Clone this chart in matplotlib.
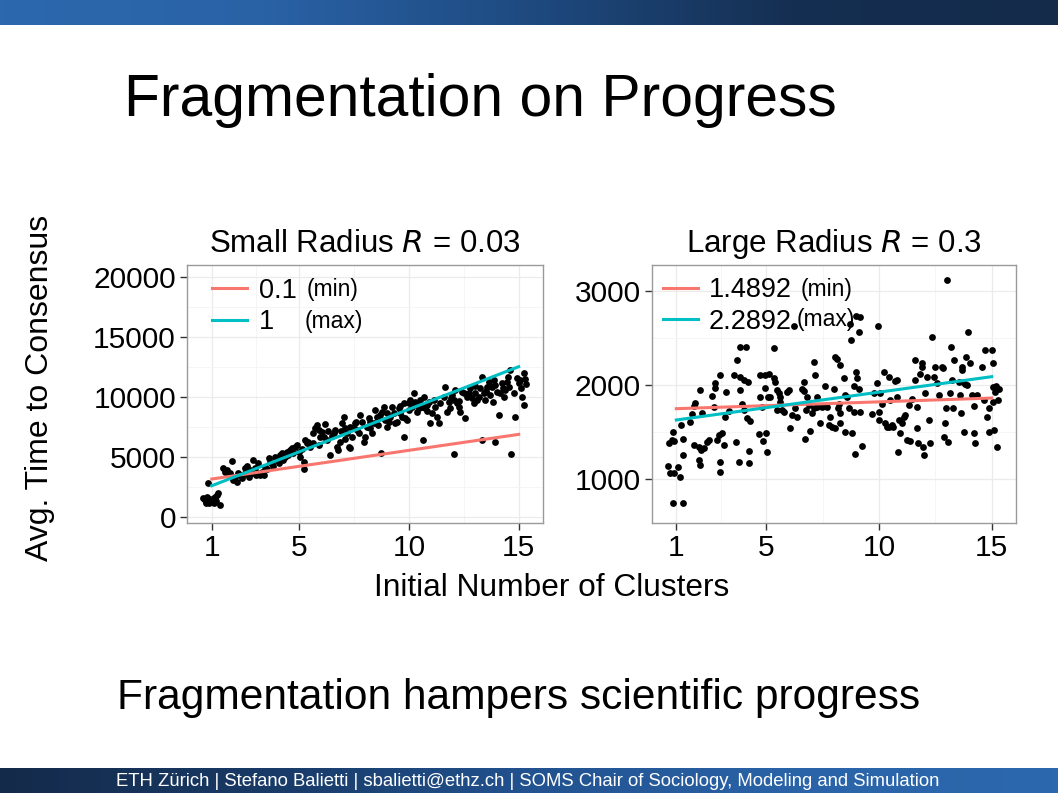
import numpy as np
import matplotlib
matplotlib.use("Agg")
import matplotlib.pyplot as plt
from matplotlib.colors import LinearSegmentedColormap

plt.rcParams['font.family'] = ['Liberation Sans', 'DejaVu Sans']

# ---- data: small radius R = 0.03 ----
small_x = [0.62, 0.70, 0.77, 0.85, 0.92, 1.00, 1.08, 1.15, 1.23, 1.30, 1.38, 0.74, 0.89, 1.08, 1.20, 0.85,
           1.53, 1.69, 1.91, 1.84, 1.99, 2.07, 2.14, 2.29, 2.37, 2.52, 2.60, 2.75, 2.83, 2.90, 2.98, 3.05,
           3.13, 3.21, 3.28, 3.36, 3.43, 3.59, 3.66, 3.74, 3.89, 3.97, 4.12, 4.20, 4.27, 4.35, 4.42, 4.58,
           4.65, 4.80, 4.88, 4.96, 5.03, 5.19, 5.22, 5.26, 5.34, 5.41, 5.49,
           5.64, 5.72, 5.79, 5.87, 5.95, 6.02, 6.18, 6.25, 6.40, 6.56, 6.63, 6.71, 6.78, 6.86, 6.94, 7.01,
           7.09, 7.16, 7.24, 7.32, 7.39, 7.47, 7.55, 7.62, 7.70, 7.77, 7.85, 7.93, 8.00, 8.08, 8.15, 8.23,
           8.31, 8.38, 8.46, 8.53, 8.69, 8.73,
           8.76, 8.84, 8.91, 8.99, 9.07, 9.14, 9.30, 9.37, 9.45, 9.52, 9.60, 9.68, 9.75, 9.78, 9.83, 9.90,
           9.98, 10.06, 10.13, 10.21, 10.28, 10.36, 10.44, 10.51, 10.59, 10.62, 10.67, 10.74, 10.82, 10.89,
           10.97, 11.05, 11.12, 11.20, 11.27, 11.35,
           11.58, 11.65, 11.73, 11.81, 11.88, 11.96, 12.03, 12.11, 12.07, 12.19, 12.26, 12.34, 12.42, 12.57,
           12.64, 12.72, 12.80, 12.87, 12.95, 13.02, 13.10, 13.18, 13.25, 13.33, 13.33, 13.40, 13.48, 13.56,
           13.63, 13.71, 13.78, 13.83, 13.86, 13.94, 14.01, 14.09, 14.17, 14.24, 14.32, 14.39, 14.47, 14.55,
           14.62, 14.67, 14.78, 14.85, 14.93, 15.00, 15.08, 15.16, 15.23, 15.26, 15.35,
           1.60, 1.75, 2.20, 2.45, 2.70, 3.00, 3.50, 3.80, 4.05, 4.50, 4.70, 5.10, 5.60, 5.90, 6.30, 6.50,
           6.90, 7.30, 7.60, 8.20, 8.60, 9.00, 9.20, 9.60, 10.00, 10.40, 10.80, 11.40, 11.90, 12.30, 12.50,
           13.00, 13.50, 13.90, 14.30, 14.50, 15.10, 15.30, 6.10, 7.10]
small_y = [1530, 1390, 1610, 1250, 1440, 1330, 1530, 1670, 1810, 1940, 970, 1170, 1110, 1170, 1330, 2830,
           4030, 3890, 4640, 3610, 3060, 3330, 2920, 3470, 3190, 4030, 4220, 3890, 3610, 4720, 4030, 3610,
           4440, 3470, 3750, 3470, 4170, 4860, 4580, 4390, 5000, 4720, 5140, 5280, 4720, 5000, 5420, 5560,
           5690, 5830, 5970, 5420, 5000, 4580, 3940, 6390, 6110, 6250, 5830,
           6950, 7360, 7640, 7220, 6670, 7080, 7690, 6390, 5140, 6950, 7220, 5830, 5560, 6250, 7780, 8330,
           7360, 6950, 5830, 5690, 6670, 7360, 7780, 7220, 6950, 8470, 7920, 6250, 6670, 7500, 8190, 7360,
           6950, 7780, 8890, 8330, 8470, 5280,
           8750, 9170, 8060, 7500, 7920, 8330, 8610, 7780, 7920, 9030, 8610, 8330, 9440, 6670, 8190, 8060,
           9440, 9720, 9170, 10280, 9580, 8750, 9030, 9720, 9170, 6390, 10000, 9030, 9310, 9580,
           7780, 8610, 9720, 9170, 8330, 7780,
           10000, 10830, 8750, 9580, 9030, 10140, 9720, 10560, 5220, 9440, 9170, 8750, 10420, 8190,
           10000, 10280, 10700, 9860, 9440, 10280, 9720, 10000, 10700, 11670, 6390, 10280, 9720, 10830,
           11250, 10140, 10830, 9580, 11390, 6250, 10420, 8470, 10280, 11110, 10000, 10560, 11250, 10830,
           12220, 5190, 10280, 8330, 11530, 11110, 11390, 10000, 11950, 9310, 11060,
           3700, 3450, 3600, 3550, 3300, 3450, 3950, 4200, 4500, 5100, 5300, 5600, 6100, 6000, 7100, 6700,
           7100, 7500, 7900, 7900, 7600, 8600, 9100, 9200, 8900, 9300, 8800, 9500, 9900, 9600, 10300,
           10900, 10500, 11000, 10700, 11600, 10700, 11500, 6600, 6500]

# fitted lines for the small radius (x from 1 to 15)
small_fit_x = [1, 15]
small_min_y = [3140, 6860]
small_max_y = [2580, 12500]
small_labels = ["0.1", "1"]

# ---- data: large radius R = 0.3 ----
large_x = [0.63, 0.70, 0.88, 1.07, 1.18, 0.85, 1.30, 0.66, 0.81, 0.88, 0.85, 1.21, 1.30, 1.30, 1.62, 1.70,
           1.77, 1.84, 1.80, 1.99, 2.07, 2.14, 1.99, 2.07, 2.09, 2.21, 2.36, 2.43, 2.58, 2.66, 2.73, 2.73,
           2.80, 2.88, 2.92, 2.92, 2.95, 3.03, 3.10, 3.17, 3.22, 3.32, 3.54, 3.66, 3.69, 3.77, 3.81, 3.84,
           3.84, 3.91, 3.99, 3.99, 4.11, 4.14, 4.17, 4.21, 4.24, 4.28, 4.65, 4.73, 4.73, 4.80, 4.85, 4.92,
           4.95, 4.99, 5.02, 5.05, 5.10, 5.17, 5.32, 5.35, 5.39, 5.47, 5.47, 5.54, 5.62, 5.62, 5.69, 5.76,
           5.91, 5.98, 6.06, 6.13, 6.28, 6.35, 6.58, 6.65, 6.68, 6.72, 6.75, 6.80, 6.87, 6.95, 7.02, 7.10,
           7.10, 7.17, 7.24, 7.24, 7.39, 7.46, 7.61, 7.69, 7.76, 7.84, 7.91, 7.98, 8.06, 8.06, 8.13, 8.16,
           8.20, 8.25, 8.28, 8.28, 8.46, 8.49, 8.50, 8.57, 8.65, 8.75, 8.80, 8.87, 8.90, 8.94, 8.99, 9.02,
           9.09, 9.09, 9.14, 9.24, 9.68, 9.76, 9.91, 9.94, 9.98, 9.98, 10.05, 10.13, 10.20, 10.27, 10.35,
           10.42, 10.42, 10.50, 10.57, 10.64, 10.72, 10.79, 10.79, 10.82, 10.87, 10.94, 11.01, 11.09, 11.16,
           11.24, 11.31, 11.38, 11.46, 11.61, 11.61, 11.68, 11.68, 11.75, 11.83, 11.90, 11.90, 11.95, 11.98,
           12.05, 12.12, 12.20, 12.27, 12.35, 12.42, 12.49, 12.57, 12.64, 12.79, 12.86, 12.89, 12.94, 12.98,
           13.01, 13.04, 13.16, 13.19, 13.23, 13.28, 13.34, 13.53, 13.60, 13.63, 13.68, 13.68, 13.72, 13.75,
           13.82, 13.87, 13.90, 13.97, 14.05, 14.12, 14.20, 14.20, 14.27, 14.34, 14.57, 14.64, 14.71, 14.79,
           14.86, 14.90, 15.01, 15.05, 15.08, 15.11, 15.16, 15.20, 15.23, 15.26, 15.31, 15.08,
           8.99, 9.14, 6.21, 8.69]
large_y = [1140, 1060, 1060, 1130, 1020, 750, 750, 1380, 1410, 1400, 1500, 1570, 1430, 1260, 1610, 1690,
           1780, 1810, 1360, 1340, 1950, 1700, 1200, 1150, 1310, 1330, 1390, 1410, 1880, 1770, 1970, 2020,
           1410, 1470, 1185, 1070, 2100, 1485, 1360, 1660, 1920, 1725, 2100, 1390, 2260, 1180, 2400, 2085,
           1945, 1800, 2050, 1730, 2400, 1645, 2030, 1300, 1165, 1615, 1475, 1875, 2100, 1770, 1400, 2100,
           1970, 1485, 1290, 1875, 2120, 1875, 2070, 2390, 2030, 1730, 1945, 1910, 1875, 1820, 1730, 1715,
           1925, 1945, 1540, 1680, 1750, 1660, 1960, 2030, 1940, 1430, 1730, 1875, 1785, 1510, 1700, 2245,
           1750, 2100, 1875, 1770, 1600, 1770, 1990, 1770, 1570, 1660, 1555, 1960, 2300, 1540, 2270, 1750,
           1800, 1700, 2210, 1590, 2070, 1890, 1500, 1875, 1750, 2475, 1490, 1990, 1715, 1270, 2140, 2070,
           2565, 1960, 1715, 1350, 1690, 1910, 2015, 2620, 1715, 1625, 1915, 1800, 2140, 1590, 1555,
           2085, 1555, 1840, 1570, 1555, 2045, 2050, 1875, 1290, 1625, 1485, 1590, 1660, 1680,
           1410, 1785, 1400, 1855, 2265, 2050, 1770, 1540, 1380, 2120, 2230, 2190, 1340, 1260,
           1910, 2085, 1625, 1380, 2510, 2085, 2185, 2015, 1890, 2190, 2175, 1450, 1590, 1750,
           3110, 1390, 1910, 2400, 2050, 1750, 2265, 2030, 1890, 1700, 2160, 2190, 2030, 1500,
           2010, 2300, 2000, 2565, 2230, 1890, 1775, 1485, 1380, 1890, 2190, 1840, 2370, 1660,
           1500, 1750, 2370, 1980, 2235, 1520, 1925, 1990, 1335, 1840, 1960, 1820,
           2730, 2720, 2620, 2650]

large_fit_x = [1, 15]
large_min_y = [1747, 1860]
large_max_y = [1627, 2087]
large_labels = ["1.4892", "2.2892"]

x_ticks = [1, 5, 10, 15]
small_yticks = [0, 5000, 10000, 15000, 20000]
large_yticks = [1000, 2000, 3000]

RED = "#F8766D"
CYAN = "#00BFC4"

fig = plt.figure(figsize=(10.58, 7.93), dpi=100)

# slide header / footer gradient bars
bg = fig.add_axes([0, 0, 1, 1], zorder=-5)
bg.axis("off")
grad = np.linspace(0, 1, 256).reshape(1, -1)
head_cmap = LinearSegmentedColormap.from_list("head", ["#2c68ae", "#2a62a6", "#1e4a80", "#152f52", "#142b4a"])
foot_cmap = LinearSegmentedColormap.from_list("foot", ["#142a4a", "#183a66", "#22528f", "#2a63a8", "#2c68ae"])
bg.imshow(grad, cmap=head_cmap, aspect="auto", extent=[0, 1, 1 - 25 / 793, 1])
bg.imshow(grad, cmap=foot_cmap, aspect="auto", extent=[0, 1, 0, 25 / 793])
bg.set_xlim(0, 1)
bg.set_ylim(0, 1)

fig.text(124 / 1058, 1 - 101 / 793, "Fragmentation on Progress", fontsize=42.3, va="center", ha="left")
fig.text(117 / 1058, 1 - 698 / 793, "Fragmentation hampers scientific progress", fontsize=30.6,
         va="center", ha="left")
fig.text(528 / 1058, 1 - 781 / 793,
         "ETH Zürich | Stefano Balietti | sbalietti@ethz.ch | SOMS Chair of Sociology, Modeling and Simulation",
         fontsize=13.3, color="white", va="center", ha="center")


def style_panel(ax, yticks, yminor, xlim, ylim):
    ax.set_xlim(*xlim)
    ax.set_ylim(*ylim)
    ax.set_xticks(x_ticks)
    ax.set_xticks([3, 7.5, 12.5], minor=True)
    ax.set_yticks(yticks)
    ax.set_yticks(yminor, minor=True)
    ax.grid(True, which="major", color="#ebebeb", lw=0.9)
    ax.grid(True, which="minor", color="#f5f5f5", lw=0.7)
    ax.set_axisbelow(True)
    for s in ax.spines.values():
        s.set_color("#9a9a9a")
        s.set_linewidth(1.0)
    ax.tick_params(which="major", length=5, width=1, color="#333333", labelsize=21.5, pad=3)
    ax.tick_params(which="minor", length=0)


# left panel
ax1 = fig.add_axes([187 / 1058, 1 - 523 / 793, 356 / 1058, 258 / 793])
ax1.scatter(small_x, small_y, s=24, color="black", lw=0, zorder=3)
l1, = ax1.plot(small_fit_x, small_min_y, color=RED, lw=2.2, zorder=4)
l2, = ax1.plot(small_fit_x, small_max_y, color=CYAN, lw=2.2, zorder=4)
style_panel(ax1, small_yticks, [2500, 7500, 12500, 17500], (-0.13, 16.11), (-525, 20975))
ax1.set_title("Small Radius $\\it{R}$ = 0.03", fontsize=22.5, pad=9)
ax1.legend([l1, l2], small_labels, loc="upper left", bbox_to_anchor=(0.07, 0.95), frameon=False,
           fontsize=19.5, handlelength=1.3, handletextpad=0.45, borderpad=0, borderaxespad=0,
           labelspacing=0.2)
ax1.text(0.337, 0.905, "(min)", transform=ax1.transAxes, fontsize=16.5, va="center")
ax1.text(0.331, 0.782, "(max)", transform=ax1.transAxes, fontsize=16.5, va="center")

# right panel
ax2 = fig.add_axes([652 / 1058, 1 - 523 / 793, 364 / 1058, 258 / 793])
ax2.scatter(large_x, large_y, s=24, color="black", lw=0, zorder=3)
r1, = ax2.plot(large_fit_x, large_min_y, color=RED, lw=2.2, zorder=4)
r2, = ax2.plot(large_fit_x, large_max_y, color=CYAN, lw=2.2, zorder=4)
style_panel(ax2, large_yticks, [1500, 2500], (-0.08, 16.08), (533, 3273))
ax2.set_title("Large Radius $\\it{R}$ = 0.3", fontsize=22.5, pad=9)
ax2.legend([r1, r2], large_labels, loc="upper left", bbox_to_anchor=(0.03, 0.952), frameon=False,
           fontsize=19.5, handlelength=1.3, handletextpad=0.4, borderpad=0, borderaxespad=0,
           labelspacing=0.2)
ax2.text(0.407, 0.905, "(min)", transform=ax2.transAxes, fontsize=16.5, va="center")
ax2.text(0.398, 0.79, "(max)", transform=ax2.transAxes, fontsize=16.5, va="center")

fig.text(40 / 1058, 1 - 388 / 793, "Avg. Time to Consensus", rotation=90, fontsize=23,
         va="center", ha="center")
fig.text(552 / 1058, 1 - 588 / 793, "Initial Number of Clusters", fontsize=22.8, va="center", ha="center")

fig.savefig("out.png", dpi=100)
